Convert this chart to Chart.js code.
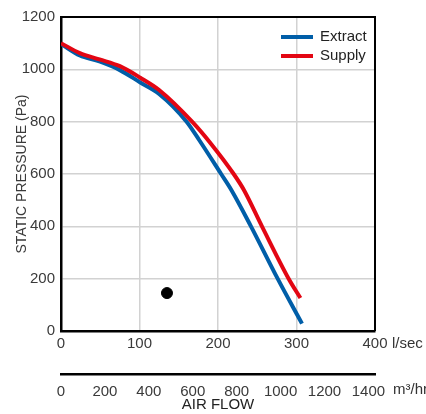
<!DOCTYPE html>
<html>
<head>
<meta charset="utf-8">
<script src="https://cdn.jsdelivr.net/npm/chart.js@4/dist/chart.umd.min.js"></script>
<style>
  html, body { margin: 0; padding: 0; background: #fff; }
  #wrap { width: 426px; height: 414px; }
</style>
</head>
<body>
<div id="wrap"><canvas id="fanChart" width="426" height="414"></canvas></div>
<script>
// fan curve
var extractFlow     = [0, 24, 49, 75, 101, 125, 160, 176, 204, 217, 242, 276, 307];
var extractPressure = [1097, 1053, 1030, 997, 950, 906, 800, 730, 600, 539, 400, 200, 28];
var supplyFlow      = [0, 24, 49, 75, 101, 125, 167, 192, 220, 233, 256, 290, 305];
var supplyPressure  = [1100, 1062, 1038, 1012, 968, 921, 800, 712, 600, 539, 400, 200, 126];
var pointFlow       = [135];
var pointPressure   = [145];

var flowTicks   = [0, 100, 200, 300, 400];          // l/sec
var m3hTicks    = [0, 200, 400, 600, 800, 1000, 1200, 1400]; // m³/hr
var seriesNames = ['Extract', 'Supply'];
var seriesColors = ['#005ea8', '#e30613'];

var FONT = 'Liberation Sans, Arial, Helvetica, sans-serif';

function toXY(xs, ys) {
	var out = [];
	for (var i = 0; i < xs.length; i++) {
		out.push({ x: xs[i], y: ys[i] });
	}
	return out;
}

function plain(v) { return String(v); }

// frame, inside legend and unit labels
var decorPlugin = {
	id: 'decor',
	afterDatasetsDraw: function(chart) {
		var ctx = chart.ctx;
		var a = chart.chartArea;
		ctx.save();
		ctx.strokeStyle = '#000';
		ctx.lineWidth = 2;
		ctx.beginPath();
		ctx.moveTo(a.left, a.top);
		ctx.lineTo(a.right, a.top);
		ctx.lineTo(a.right, a.bottom);
		ctx.stroke();

		// legend
		ctx.font = '15px ' + FONT;
		ctx.textBaseline = 'middle';
		ctx.textAlign = 'left';
		for (var i = 0; i < seriesNames.length; i++) {
			var y = 37 + i * 19;
			ctx.strokeStyle = seriesColors[i];
			ctx.lineWidth = 4;
			ctx.beginPath();
			ctx.moveTo(281, y);
			ctx.lineTo(313, y);
			ctx.stroke();
			ctx.fillStyle = '#222';
			ctx.fillText(seriesNames[i], 320, y);
		}

		// unit labels
		ctx.fillStyle = '#333';
		var xs = chart.scales.x;
		var x2 = chart.scales.x2;
		ctx.fillText('l/sec', 392, xs.top + 13);
		ctx.fillText('m\u00b3/hr', 393, x2.top + 16);
		ctx.restore();
	}
};

var ctx = document.getElementById('fanChart').getContext('2d');
var chart = new Chart(ctx, {
	type: 'line',
	data: {
		datasets: [{
			label: seriesNames[1],
			data: toXY(supplyFlow, supplyPressure),
			borderColor: seriesColors[1],
			borderWidth: 4,
			pointRadius: 0,
			cubicInterpolationMode: 'monotone',
			fill: false,
			xAxisID: 'x'
		}, {
			label: seriesNames[0],
			data: toXY(extractFlow, extractPressure),
			borderColor: seriesColors[0],
			borderWidth: 4,
			pointRadius: 0,
			cubicInterpolationMode: 'monotone',
			fill: false,
			xAxisID: 'x'
		}, {
			type: 'scatter',
			label: 'point',
			data: toXY(pointFlow, pointPressure),
			backgroundColor: '#000',
			borderColor: '#000',
			pointRadius: 5.5,
			xAxisID: 'x'
		}]
	},
	options: {
		responsive: false,
		animation: false,
		devicePixelRatio: 1,
		layout: { padding: { top: 17, right: 51, left: 0, bottom: 0 } },
		plugins: {
			legend: { display: false },
			tooltip: { enabled: false }
		},
		scales: {
			x: {
				type: 'linear',
				position: 'bottom',
				min: 0,
				max: 400,
				weight: 0,
				afterBuildTicks: function(scale) {
					scale.ticks = flowTicks.map(function(v) { return { value: v }; });
				},
				afterFit: function(scale) { scale.height = 43; },
				grid: { color: '#d2d2d2', lineWidth: 1.5, drawTicks: false },
				border: { color: '#000', width: 2.5 },
				ticks: { padding: 4, color: '#3a3a3a', font: { family: FONT, size: 15 }, maxRotation: 0, callback: plain }
			},
			x2: {
				type: 'linear',
				position: 'bottom',
				min: 0,
				max: 1430,
				weight: 1,
				afterBuildTicks: function(scale) {
					scale.ticks = m3hTicks.map(function(v) { return { value: v }; });
				},
				afterFit: function(scale) { scale.height = 40; },
				grid: { display: true, drawOnChartArea: false, color: 'rgba(0,0,0,0)', tickLength: 4 },
				border: { color: '#000', width: 2.5 },
				ticks: { padding: 5, color: '#3a3a3a', font: { family: FONT, size: 15 }, maxRotation: 0, callback: plain },
				title: {
					display: true,
					text: 'AIR FLOW',
					color: '#222',
					font: { family: FONT, size: 15 },
					padding: { top: 0, bottom: 0 }
				}
			},
			y: {
				type: 'linear',
				min: 0,
				max: 1200,
				afterFit: function(scale) { scale.width = 61; },
				ticks: { stepSize: 200, padding: 6, color: '#3a3a3a', font: { family: FONT, size: 15 }, callback: plain },
				grid: { color: '#d2d2d2', lineWidth: 1.5, drawTicks: false },
				border: { color: '#000', width: 2.5 },
				title: {
					display: true,
					text: 'STATIC PRESSURE (Pa)',
					color: '#3a3a3a',
					font: { family: FONT, size: 14 },
					padding: { top: 14, bottom: 0 }
				}
			}
		}
	},
	plugins: [decorPlugin]
});
</script>
</body>
</html>
